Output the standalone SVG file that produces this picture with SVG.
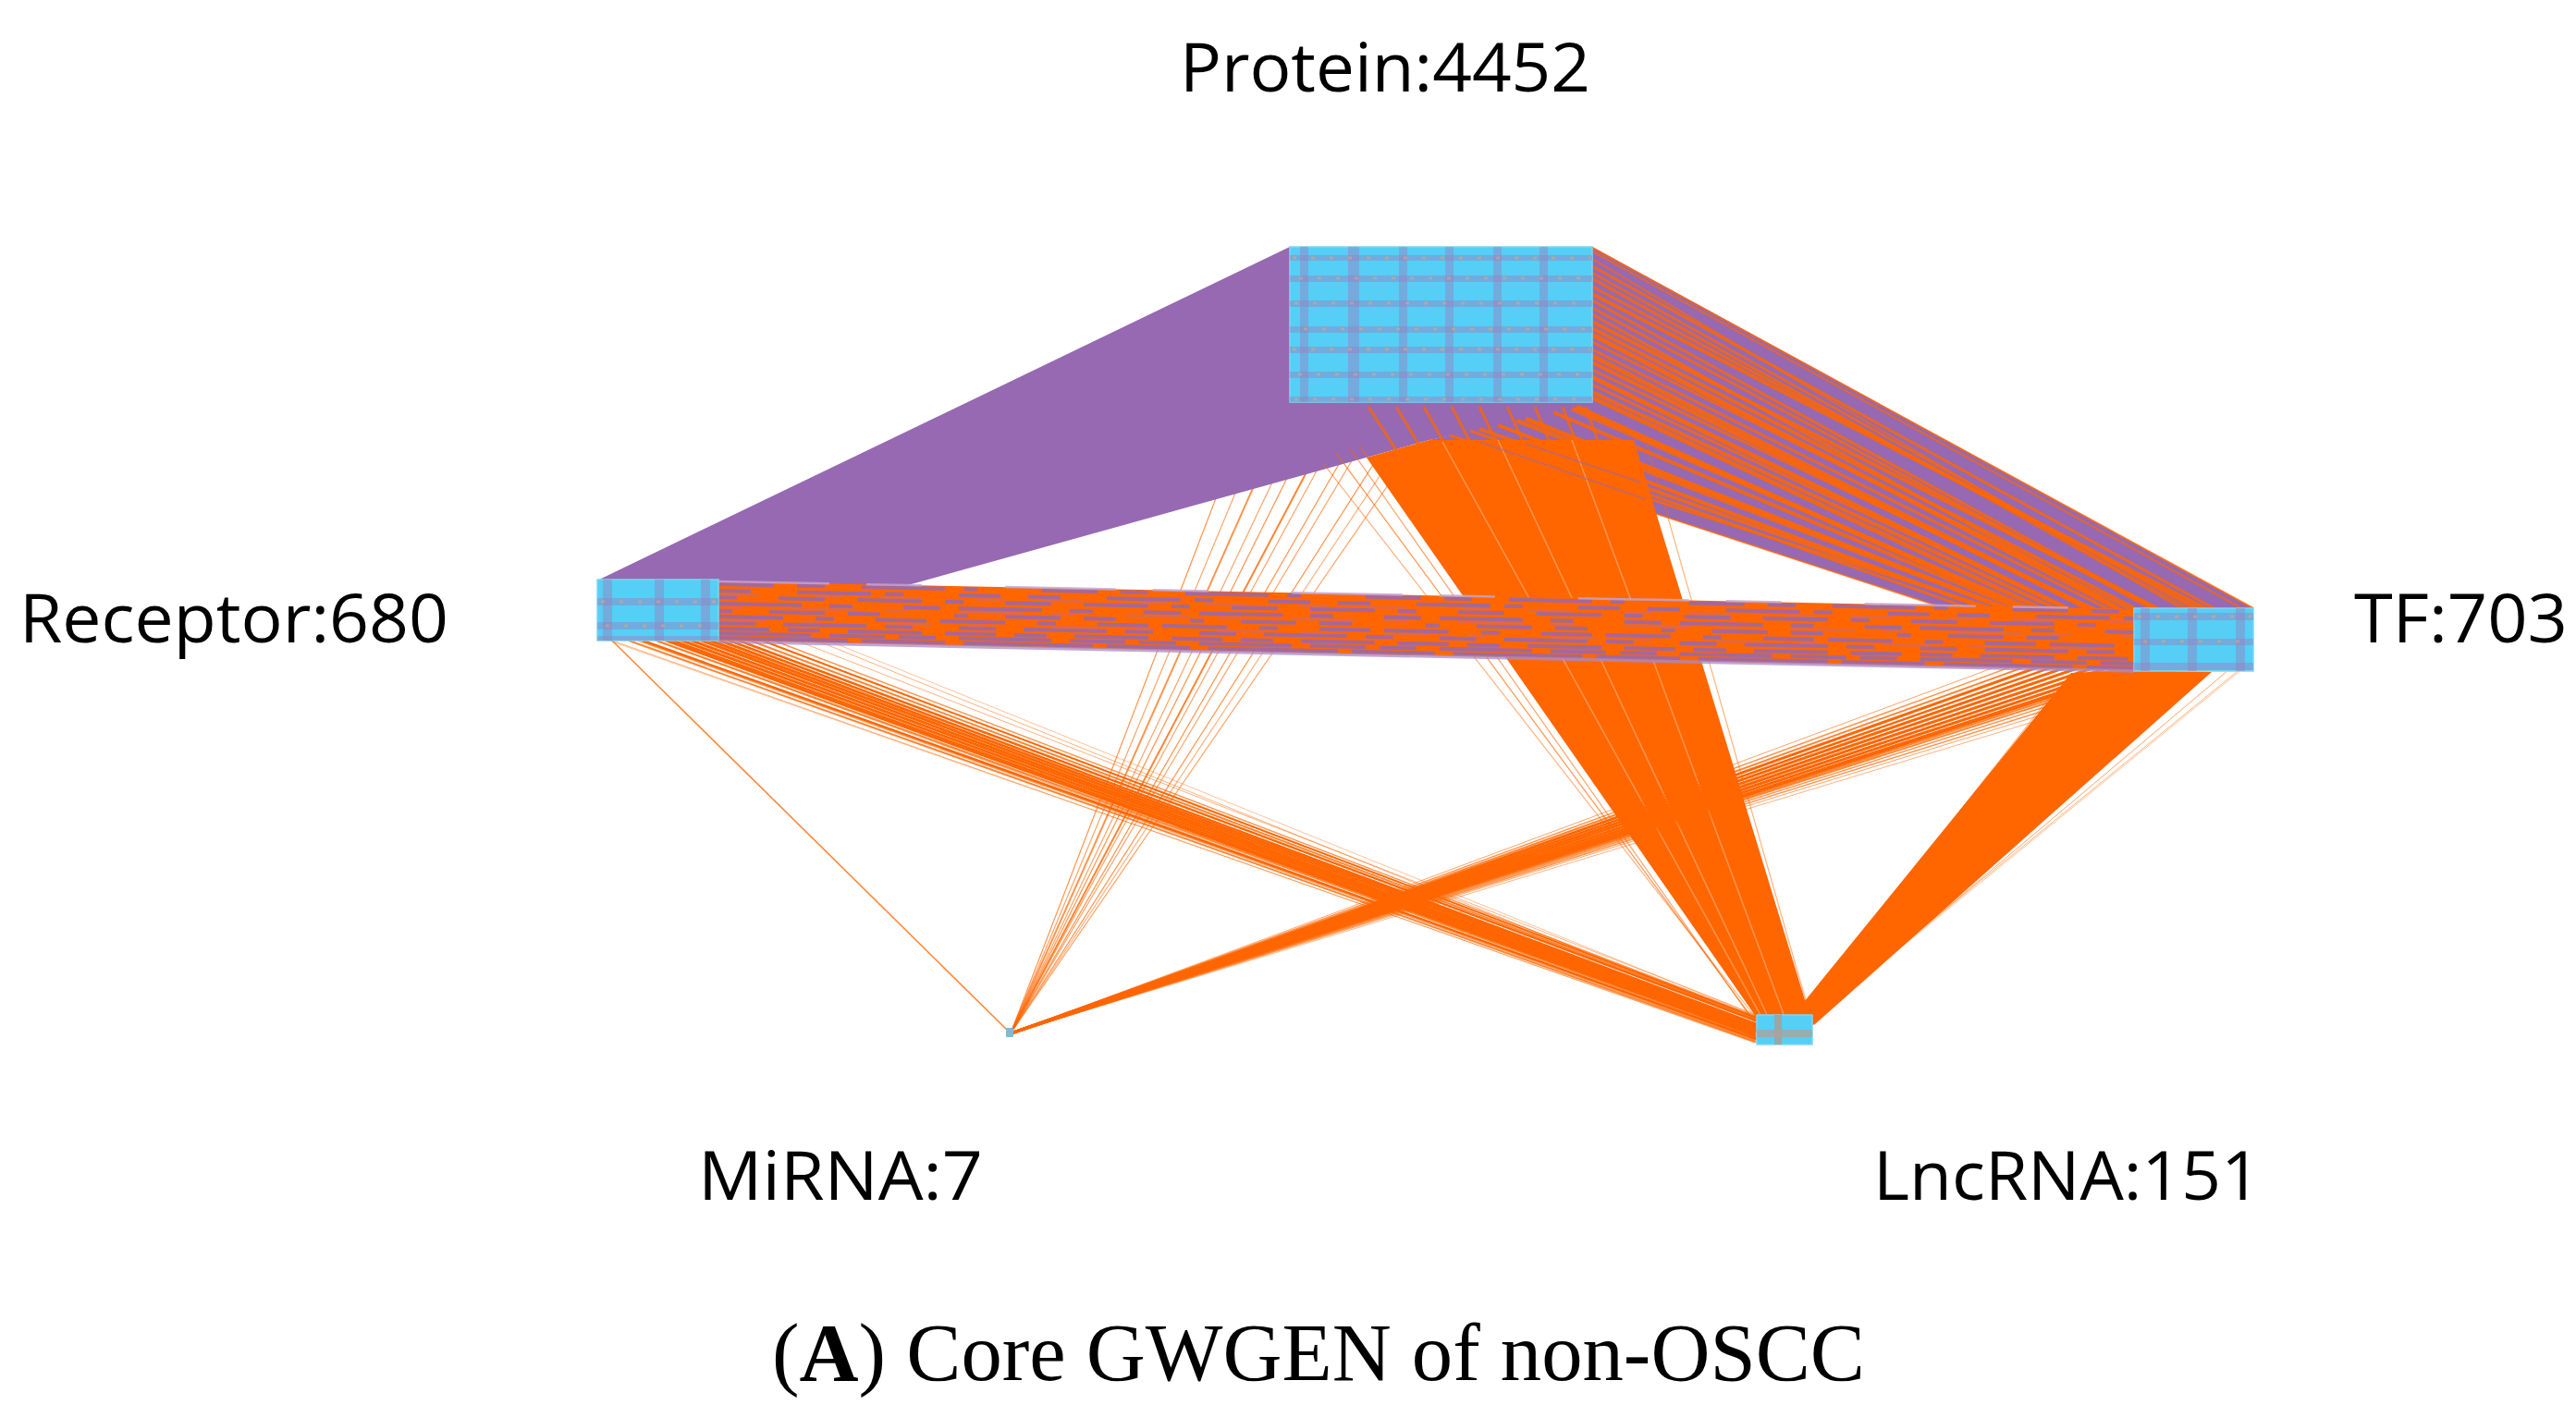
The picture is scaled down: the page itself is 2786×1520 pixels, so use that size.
<svg xmlns="http://www.w3.org/2000/svg" width="2786" height="1520" viewBox="0 0 2786 1520">
<style>
.pu{fill:#9669B2}
.orf{fill:#FF6600}
.or{stroke:#FF6600;fill:none}
.pl{stroke:#9669B2;fill:none}
.wl{stroke:#FFFFFF;fill:none}
.node{fill:#55CFF5;stroke:#7FD6F2;stroke-width:1.5}
.stripe{fill:#9A7FC0;opacity:.45}
.speck{stroke:#E0A878;stroke-width:3;stroke-dasharray:4 16;opacity:.55;fill:none}
.lbl{font-family:"Open Sans","Noto Sans",sans-serif;font-size:73px;fill:#000}
.cap{font-family:"Liberation Serif","Times New Roman",serif;font-size:88px;fill:#000}
</style>
<rect width="2786" height="1520" fill="#FFFFFF"/>

<g id="connectors">
  <!-- MiRNA - Protein sparse fan (under purple) -->
  <g id="edges-mirna-protein" class="or" stroke-width="1.2">
    <line x1="1093" y1="1118" x2="1330" y2="500" opacity=".7"/>
    <line x1="1093" y1="1118" x2="1352" y2="495" opacity=".6"/>
    <line x1="1093" y1="1118" x2="1372" y2="490" opacity=".7" stroke-width="2"/>
    <line x1="1093" y1="1118" x2="1392" y2="488" opacity=".6"/>
    <line x1="1093" y1="1118" x2="1408" y2="485" opacity=".7"/>
    <line x1="1093" y1="1118" x2="1424" y2="490" opacity=".8" stroke-width="2"/>
    <line x1="1093" y1="1118" x2="1440" y2="480" opacity=".6"/>
    <line x1="1093" y1="1118" x2="1455" y2="490" opacity=".7"/>
    <line x1="1093" y1="1118" x2="1470" y2="485" opacity=".6"/>
    <line x1="1093" y1="1118" x2="1490" y2="495" opacity=".7"/>
    <line x1="1093" y1="1118" x2="1512" y2="485" opacity=".5"/>
    <line x1="1093" y1="1118" x2="1532" y2="480" opacity=".6"/>
  </g>

  <!-- Protein - Receptor purple wedge -->
  <g id="edges-protein-receptor">
    <polygon class="pu" points="1395,267 648,627 777,690 1546,476 1722,440 1722,267"/>
  </g>

  <!-- Protein - TF mixed bundle -->
  <g id="edges-protein-tf">
    <polygon class="pu" points="1546,476 1722,437 1722,267 2437,658 2437,725 2308,725"/>
    <g class="or">
      <line x1="1722" y1="268" x2="2437" y2="658" stroke-width="2" opacity=".8"/>
      <line x1="1722" y1="272" x2="2428" y2="660" stroke-width="2" opacity=".7"/>
      <line x1="1722" y1="280" x2="2370" y2="665" stroke-width="2" opacity=".7"/>
      <line x1="1722" y1="288" x2="2405" y2="664" stroke-width="3" opacity=".8"/>
      <line x1="1722" y1="295" x2="2390" y2="668" stroke-width="2.5" opacity=".8"/>
      <line x1="1722" y1="300" x2="2436" y2="700" stroke-width="2" opacity=".6"/>
      <line x1="1722" y1="302" x2="2384" y2="668" stroke-width="2.5" opacity=".7"/>
      <line x1="1722" y1="310" x2="2400" y2="670" stroke-width="3" opacity=".8"/>
      <line x1="1722" y1="318" x2="2420" y2="676" stroke-width="4" opacity=".85"/>
      <line x1="1722" y1="325" x2="2360" y2="674" stroke-width="3" opacity=".8"/>
      <line x1="1722" y1="333" x2="2352" y2="672" stroke-width="3" opacity=".8"/>
      <line x1="1722" y1="340" x2="2310" y2="668" stroke-width="3" opacity=".8"/>
      <line x1="1722" y1="348" x2="2396" y2="690" stroke-width="4" opacity=".85"/>
      <line x1="1722" y1="355" x2="2380" y2="695" stroke-width="4" opacity=".85"/>
      <line x1="1722" y1="362" x2="2332" y2="680" stroke-width="5" opacity=".9"/>
      <line x1="1722" y1="370" x2="2410" y2="712" stroke-width="3" opacity=".8"/>
      <line x1="1722" y1="378" x2="2362" y2="700" stroke-width="3" opacity=".8"/>
      <line x1="1722" y1="385" x2="2350" y2="705" stroke-width="5" opacity=".85"/>
      <line x1="1722" y1="392" x2="2322" y2="690" stroke-width="4" opacity=".9"/>
      <line x1="1722" y1="400" x2="2390" y2="718" stroke-width="3" opacity=".8"/>
      <line x1="1722" y1="408" x2="2342" y2="710" stroke-width="5" opacity=".9"/>
      <line x1="1722" y1="416" x2="2370" y2="722" stroke-width="3" opacity=".8"/>
      <line x1="1722" y1="424" x2="2312" y2="700" stroke-width="4" opacity=".85"/>
      <line x1="1722" y1="430" x2="2330" y2="716" stroke-width="5" opacity=".85"/>
      <line x1="1705" y1="440" x2="2320" y2="718" stroke-width="5" opacity=".9"/>
      <line x1="1700" y1="442" x2="2345" y2="724" stroke-width="5" opacity=".8"/>
      <line x1="1680" y1="446" x2="2310" y2="712" stroke-width="4" opacity=".85"/>
      <line x1="1650" y1="453" x2="2330" y2="722" stroke-width="5" opacity=".9"/>
      <line x1="1640" y1="455" x2="2320" y2="716" stroke-width="5" opacity=".8"/>
      <line x1="1620" y1="460" x2="2310" y2="720" stroke-width="4" opacity=".9"/>
      <line x1="1600" y1="464" x2="2340" y2="725" stroke-width="4" opacity=".8"/>
      <line x1="1590" y1="466" x2="2315" y2="724" stroke-width="3" opacity=".8"/>
      <line x1="1568" y1="471" x2="2312" y2="708" stroke-width="3" opacity=".8"/>
      <line x1="1548" y1="476" x2="2308" y2="725" stroke-width="2" opacity=".7"/>
    </g>
  </g>

  <!-- Protein - LncRNA dense fan -->
  <g id="edges-protein-lncrna">
    <g class="or" stroke-width="3" opacity=".75">
      <line x1="1480" y1="440" x2="1902" y2="1102"/>
      <line x1="1510" y1="440" x2="1905" y2="1100"/>
      <line x1="1540" y1="440" x2="1910" y2="1100"/>
      <line x1="1570" y1="440" x2="1915" y2="1100"/>
      <line x1="1600" y1="440" x2="1920" y2="1100"/>
      <line x1="1630" y1="440" x2="1928" y2="1100"/>
      <line x1="1660" y1="440" x2="1935" y2="1100"/>
      <line x1="1690" y1="440" x2="1942" y2="1100"/>
      <line x1="1715" y1="440" x2="1950" y2="1098"/>
    </g>
    <polygon class="orf" points="1478,495 1546,476 1767,476 1957,1098 1940,1110 1902,1104"/>
    <g class="wl" stroke-width="1.5" opacity=".3">
      <line x1="1560" y1="478" x2="1905" y2="1100"/>
      <line x1="1620" y1="476" x2="1912" y2="1100"/>
      <line x1="1700" y1="476" x2="1930" y2="1100"/>
    </g>
    <g class="pl" stroke-width="2" opacity=".5">
      <line x1="1600" y1="478" x2="1780" y2="540"/>
      <line x1="1650" y1="480" x2="1775" y2="522"/>
    </g>
    <g class="or" stroke-width="1.2">
      <line x1="1445" y1="490" x2="1898" y2="1105" opacity=".7"/>
      <line x1="1460" y1="485" x2="1900" y2="1110" opacity=".6"/>
      <line x1="1430" y1="500" x2="1898" y2="1100" opacity=".5"/>
      <line x1="1470" y1="482" x2="1904" y2="1102" opacity=".7"/>
      <line x1="1780" y1="476" x2="1958" y2="1100" opacity=".5"/>
    </g>
  </g>

  <!-- Receptor - LncRNA band -->
  <g id="edges-receptor-lncrna" class="or">
    <line x1="650" y1="690" x2="1905" y2="1130" stroke-width="1" opacity=".4"/>
    <line x1="662" y1="693" x2="1898" y2="1128" stroke-width="1" opacity=".5"/>
    <line x1="680" y1="693" x2="1899" y2="1127" stroke-width="2" opacity=".8"/>
    <line x1="690" y1="693" x2="1898" y2="1125" stroke-width="1.5" opacity=".6"/>
    <line x1="695" y1="693" x2="1900" y2="1124" stroke-width="2.5"/>
    <line x1="700" y1="690" x2="1912" y2="1130" stroke-width="1" opacity=".6"/>
    <line x1="710" y1="693" x2="1900" y2="1122" stroke-width="2" opacity=".8"/>
    <line x1="718" y1="692" x2="1899" y2="1120" stroke-width="3"/>
    <line x1="725" y1="692" x2="1898" y2="1118" stroke-width="2.5"/>
    <line x1="732" y1="691" x2="1901" y2="1117" stroke-width="3"/>
    <line x1="740" y1="690" x2="1900" y2="1115" stroke-width="3"/>
    <line x1="748" y1="689" x2="1901" y2="1114" stroke-width="3"/>
    <line x1="755" y1="688" x2="1902" y2="1112" stroke-width="3"/>
    <line x1="762" y1="687" x2="1902" y2="1110" stroke-width="3"/>
    <line x1="765" y1="693" x2="1910" y2="1126" stroke-width="1" opacity=".6"/>
    <line x1="770" y1="686" x2="1900" y2="1108" stroke-width="2.5"/>
    <line x1="775" y1="684" x2="1904" y2="1106" stroke-width="2.5"/>
    <line x1="777" y1="680" x2="1903" y2="1104" stroke-width="2" opacity=".8"/>
    <line x1="777" y1="675" x2="1902" y2="1102" stroke-width="2"/>
    <line x1="777" y1="670" x2="1900" y2="1100" stroke-width="1.5" opacity=".7"/>
    <line x1="777" y1="660" x2="1905" y2="1100" stroke-width="1" opacity=".5"/>
    <line x1="777" y1="650" x2="1898" y2="1104" stroke-width="1" opacity=".5"/>
    <line x1="777" y1="645" x2="1912" y2="1104" stroke-width="1" opacity=".4"/>
  </g>

  <!-- MiRNA - TF band -->
  <g id="edges-mirna-tf" class="or">
    <line x1="1093" y1="1118" x2="2310" y2="665" stroke-width="1" opacity=".6"/>
    <line x1="1093" y1="1118" x2="2310" y2="672" stroke-width="1.5" opacity=".7"/>
    <line x1="1093" y1="1118" x2="2310" y2="678" stroke-width="2" opacity=".8"/>
    <line x1="1093" y1="1118" x2="2310" y2="684" stroke-width="3"/>
    <line x1="1093" y1="1118" x2="2310" y2="690" stroke-width="2.5"/>
    <line x1="1093" y1="1118" x2="2309" y2="696" stroke-width="3"/>
    <line x1="1093" y1="1118" x2="2308" y2="702" stroke-width="3"/>
    <line x1="1093" y1="1118" x2="2307" y2="708" stroke-width="3"/>
    <line x1="1093" y1="1118" x2="2305" y2="714" stroke-width="3"/>
    <line x1="1093" y1="1118" x2="2302" y2="720" stroke-width="3"/>
    <line x1="1093" y1="1118" x2="2300" y2="725" stroke-width="2.5"/>
    <line x1="1093" y1="1118" x2="2292" y2="730" stroke-width="2.5"/>
    <line x1="1093" y1="1118" x2="2285" y2="735" stroke-width="2" opacity=".8"/>
    <line x1="1093" y1="1118" x2="2275" y2="741" stroke-width="2" opacity=".8"/>
    <line x1="1093" y1="1118" x2="2265" y2="748" stroke-width="1.5" opacity=".7"/>
    <line x1="1093" y1="1118" x2="2255" y2="755" stroke-width="1.5" opacity=".7"/>
    <line x1="1093" y1="1118" x2="2245" y2="762" stroke-width="1" opacity=".6"/>
    <line x1="1093" y1="1118" x2="2235" y2="770" stroke-width="1" opacity=".5"/>
  </g>

  <!-- TF - LncRNA band -->
  <g id="edges-tf-lncrna">
    <polygon class="orf" points="2240,728 2300,725 2392,727 1963,1108 1948,1114 1938,1100"/>
    <g class="or" stroke-width="1">
      <line x1="2410" y1="725" x2="1960" y2="1105" opacity=".6"/>
      <line x1="2425" y1="722" x2="1962" y2="1100" opacity=".5"/>
      <line x1="2436" y1="715" x2="1958" y2="1105" opacity=".4"/>
      <line x1="2228" y1="740" x2="1945" y2="1098" opacity=".6"/>
    </g>
  </g>

  <!-- MiRNA - Receptor -->
  <g id="edges-mirna-receptor" class="or">
    <line x1="1093" y1="1118" x2="662" y2="693" stroke-width="1.5" opacity=".8"/>
  </g>

  <!-- Receptor - TF band -->
  <g id="edges-receptor-tf">
    <polygon class="orf" points="777,629 2308,659 2308,726 777,693"/>
    <g class="pl" stroke-width="4" opacity=".85">
      <line x1="777" y1="632" x2="2308" y2="662" stroke-dasharray="60 25 30 40 90 20 15 70"/>
      <line x1="777" y1="639" x2="2308" y2="669" stroke-dasharray="35 50 80 15 20 60 45 30"/>
      <line x1="777" y1="646" x2="2308" y2="677" stroke-dasharray="20 45 50 35 70 25"/>
      <line x1="777" y1="653" x2="2308" y2="684" stroke-dasharray="90 30 25 55 40 20"/>
      <line x1="777" y1="661" x2="2308" y2="692" stroke-dasharray="15 40 60 25 35 80"/>
      <line x1="777" y1="667" x2="2308" y2="699" stroke-dasharray="70 35 20 45 55 15"/>
      <line x1="777" y1="674" x2="2308" y2="706" stroke-dasharray="40 30 90 20 30 50"/>
      <line x1="777" y1="680" x2="2308" y2="713" stroke-dasharray="55 20 35 30 80 25"/>
      <line x1="777" y1="685" x2="2308" y2="718" stroke-dasharray="100 20 60 15 40 25"/>
      <line x1="777" y1="690" x2="2308" y2="723" stroke-dasharray="140 15 90 20"/>
    </g>
    <g stroke="#D86A5E" fill="none" stroke-width="3" opacity=".7">
      <line x1="777" y1="643" x2="2308" y2="673" stroke-dasharray="45 60 30 40"/>
      <line x1="777" y1="657" x2="2308" y2="688" stroke-dasharray="25 55 70 30"/>
      <line x1="777" y1="671" x2="2308" y2="703" stroke-dasharray="50 40 20 70"/>
    </g>
    <line x1="777" y1="629" x2="2308" y2="659" stroke="#C0A6DA" stroke-width="2.5" stroke-dasharray="120 40 60 90" opacity=".8"/>
    <line x1="777" y1="694" x2="2308" y2="726" stroke="#A98BCB" stroke-width="3.5" opacity=".75"/>
  </g>
</g>

<g id="node-protein">
  <rect class="node" x="1395" y="267" width="327" height="168"/>
  <rect class="stripe" x="1406" y="267" width="9" height="168"/>
  <rect class="stripe" x="1458" y="267" width="12" height="168"/>
  <rect class="stripe" x="1513" y="267" width="9" height="168"/>
  <rect class="stripe" x="1563" y="267" width="9" height="168"/>
  <rect class="stripe" x="1615" y="267" width="9" height="168"/>
  <rect class="stripe" x="1665" y="267" width="9" height="168"/>
  <rect class="stripe" x="1395" y="276" width="327" height="6"/>
  <rect class="stripe" x="1395" y="298" width="327" height="7"/>
  <rect class="stripe" x="1395" y="325" width="327" height="7"/>
  <rect class="stripe" x="1395" y="353" width="327" height="7"/>
  <rect class="stripe" x="1395" y="375" width="327" height="7"/>
  <rect class="stripe" x="1395" y="402" width="327" height="7"/>
  <rect class="stripe" x="1395" y="429" width="327" height="6"/>
  <g class="speck">
    <line x1="1398" y1="279" x2="1720" y2="279"/>
    <line x1="1405" y1="301" x2="1720" y2="301"/>
    <line x1="1400" y1="328" x2="1720" y2="328"/>
    <line x1="1410" y1="356" x2="1720" y2="356"/>
    <line x1="1398" y1="378" x2="1720" y2="378"/>
    <line x1="1404" y1="405" x2="1720" y2="405"/>
    <line x1="1400" y1="432" x2="1720" y2="432"/>
  </g>
</g>

<g id="node-receptor">
  <rect class="node" x="646" y="627" width="131" height="66"/>
  <rect class="stripe" x="652" y="627" width="10" height="66"/>
  <rect class="stripe" x="708" y="627" width="10" height="66"/>
  <rect class="stripe" x="758" y="627" width="10" height="66"/>
  <rect class="stripe" x="646" y="647" width="131" height="8"/>
  <rect class="stripe" x="646" y="673" width="131" height="8"/>
  <rect class="stripe" x="646" y="688" width="131" height="5"/>
  <g class="speck">
    <line x1="650" y1="651" x2="775" y2="651"/>
    <line x1="655" y1="677" x2="775" y2="677"/>
  </g>
</g>

<g id="node-tf">
  <rect class="node" x="2308" y="658" width="129" height="68"/>
  <rect class="stripe" x="2315" y="658" width="10" height="68"/>
  <rect class="stripe" x="2366" y="658" width="10" height="68"/>
  <rect class="stripe" x="2418" y="658" width="10" height="68"/>
  <rect class="stripe" x="2308" y="663" width="129" height="8"/>
  <rect class="stripe" x="2308" y="691" width="129" height="7"/>
  <rect class="stripe" x="2308" y="717" width="129" height="8"/>
  <g class="speck">
    <line x1="2312" y1="667" x2="2435" y2="667"/>
    <line x1="2318" y1="694" x2="2435" y2="694"/>
  </g>
</g>

<g id="node-lncrna">
  <rect class="node" x="1900" y="1098" width="60" height="32"/>
  <rect x="1919" y="1098" width="8" height="32" fill="#B09A8A" opacity=".75"/>
  <rect x="1900" y="1114" width="60" height="8" fill="#A8A4A0" opacity=".8"/>
</g>

<g id="node-mirna">
  <rect x="1088" y="1112" width="8" height="10" fill="#7FBAD8"/>
</g>

<g id="labels">
  <text class="lbl" x="1276" y="99" textLength="444" lengthAdjust="spacingAndGlyphs">Protein:4452</text>
  <text class="lbl" x="21" y="695" textLength="464" lengthAdjust="spacingAndGlyphs">Receptor:680</text>
  <text class="lbl" x="2546" y="695" textLength="231" lengthAdjust="spacingAndGlyphs">TF:703</text>
  <text class="lbl" x="755" y="1298" textLength="308" lengthAdjust="spacingAndGlyphs">MiRNA:7</text>
  <text class="lbl" x="2026" y="1298" textLength="419" lengthAdjust="spacingAndGlyphs">LncRNA:151</text>
  <text class="cap" x="835" y="1493" textLength="1182" lengthAdjust="spacingAndGlyphs">(<tspan font-weight="bold">A</tspan>) Core GWGEN of non-OSCC</text>
</g>
</svg>
